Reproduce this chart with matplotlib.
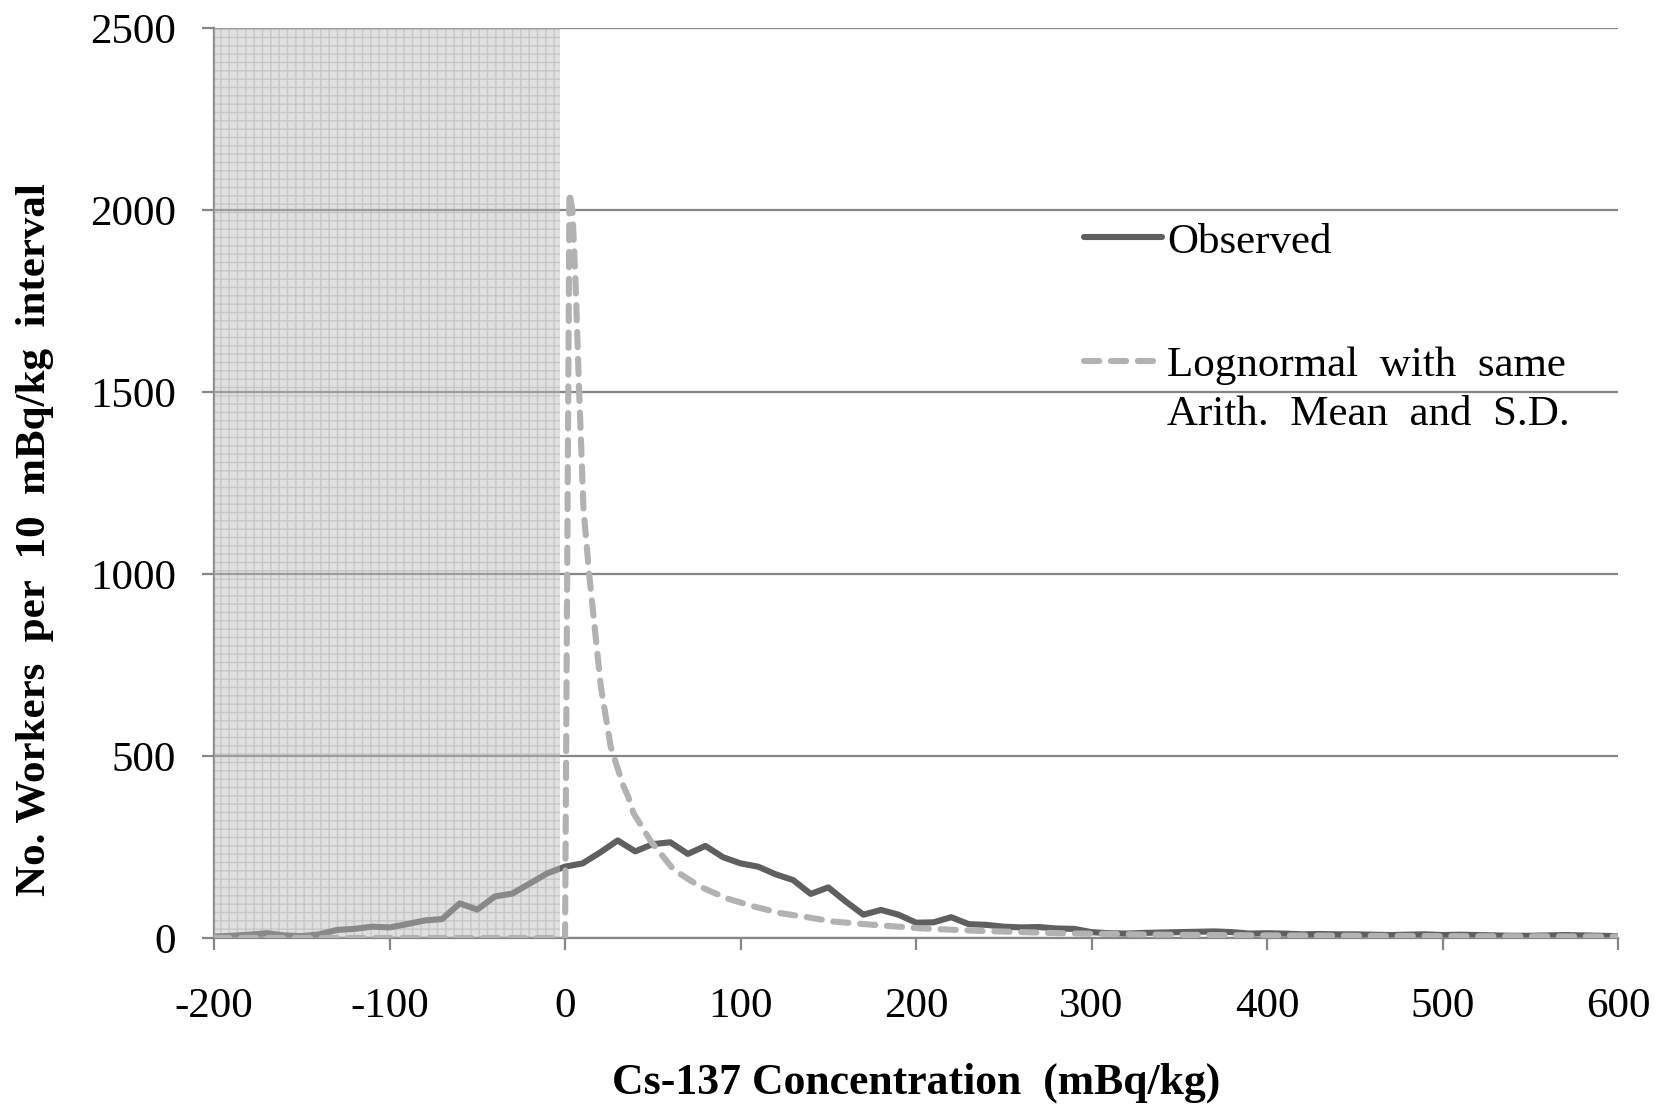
import matplotlib.pyplot as plt
from matplotlib.lines import Line2D

# observed counts, one value per 10 mBq/kg step from -200 to 600
obs_x = list(range(-200, 610, 10))
obs_y = [4, 6, 9, 13, 7, 5, 10, 22, 25, 31,
         29, 38, 48, 52, 95, 78, 114, 122, 150, 178,
         196, 205, 235, 268, 238, 258, 263, 231, 253, 222,
         205, 196, 175, 159, 121, 139, 100, 64, 77, 64,
         42, 43, 57, 38, 36, 31, 29, 30, 26, 25,
         16, 13, 12, 14, 15, 16, 17, 18, 16, 12,
         13, 12, 10, 11, 10, 10, 9, 8, 9, 10,
         8, 9, 8, 7, 6, 6, 7, 8, 7, 6,
         5]

# lognormal curve
logn_x = [-200, 0, 2.5, 4.2, 6, 8, 10.5, 13.7, 20.4, 26, 33, 36, 39, 49, 62, 77,
          92, 108, 123, 138, 153, 176, 204, 233, 282, 339, 400, 500, 600]
logn_y = [0, 0, 2050, 2000, 1800, 1506, 1180, 1002, 691, 526, 421, 388, 343, 265, 187, 141,
          109, 86, 68, 57, 45, 36, 26, 20, 13, 9, 7, 5, 4]

x_ticks = list(range(-200, 700, 100))
y_ticks = list(range(0, 3000, 500))

plt.rcParams['font.family'] = ['Liberation Serif', 'DejaVu Serif']
plt.rcParams['hatch.linewidth'] = 1.0
plt.rcParams['axes.unicode_minus'] = False

fig = plt.figure(figsize=(16.58, 11.04), dpi=100)
ax = fig.add_axes([0.1291, 0.1504, 0.8468, 0.8238])

grey = '#868686'
dash = (0, (2.5, 1.9))
ax.set_xlim(-200, 600)
ax.set_ylim(0, 2500)
ax.set_xticks(x_ticks)
ax.set_yticks(y_ticks)
ax.yaxis.grid(True, color=grey, linewidth=1.6, zorder=0.5)
ax.set_axisbelow(True)

for side in ['top', 'right']:
    ax.spines[side].set_visible(False)
for side in ['left', 'bottom']:
    ax.spines[side].set_color(grey)
    ax.spines[side].set_linewidth(1.6)

ax.tick_params(axis='both', direction='out', length=8.5, width=1.6, color=grey,
               labelsize=31)
ax.tick_params(axis='y', pad=19)
ax.tick_params(axis='x', pad=27)

# observed line (under the shaded box)
ax.plot(obs_x, obs_y, color='#5f5f5f', linewidth=4.4, solid_joinstyle='round',
        solid_capstyle='round', zorder=2, label='Observed')

# shaded region below zero
ax.axvspan(-200, -3, facecolor=(0.737, 0.737, 0.737, 0.46),
           edgecolor=(0.55, 0.55, 0.55, 0.3), hatch='++', linewidth=0, zorder=3)

# lognormal dashed line on top
ax.plot(logn_x, logn_y, color='#b2b2b2', linewidth=4.4, linestyle=dash,
        dash_capstyle='round', dash_joinstyle='round', zorder=4)

ax.set_xlabel('Cs-137 Concentration  (mBq/kg)', fontsize=31.5, fontweight='bold')
ax.xaxis.set_label_coords(0.5, -0.137)
ax.set_ylabel('No. Workers  per  10  mBq/kg  interval', fontsize=31, fontweight='bold')
ax.yaxis.set_label_coords(-0.114, 0.438)

# legend, two parts so the dashed handle sits on the first text line
h_obs = Line2D([], [], color='#5f5f5f', linewidth=4.4, solid_capstyle='round')
leg1 = ax.legend([h_obs], ['Observed'], loc='center left', bbox_to_anchor=(0.6197, 0.7653),
                 frameon=False, fontsize=31, handlelength=1.8, handletextpad=0.12,
                 borderpad=0, borderaxespad=0)
ax.add_artist(leg1)
h_logn = Line2D([], [], color='#b2b2b2', linewidth=4.4, linestyle=dash,
                dash_capstyle='round')
h_none = Line2D([], [], color='none')
ax.legend([h_logn, h_none], ['Lognormal  with  same', 'Arith.  Mean  and  S.D.'],
          loc='center left', bbox_to_anchor=(0.6197, 0.6023), frameon=False, fontsize=31,
          handlelength=1.8, handletextpad=0.12, borderpad=0, borderaxespad=0,
          labelspacing=0.22)

plt.savefig('out.png', dpi=100)
